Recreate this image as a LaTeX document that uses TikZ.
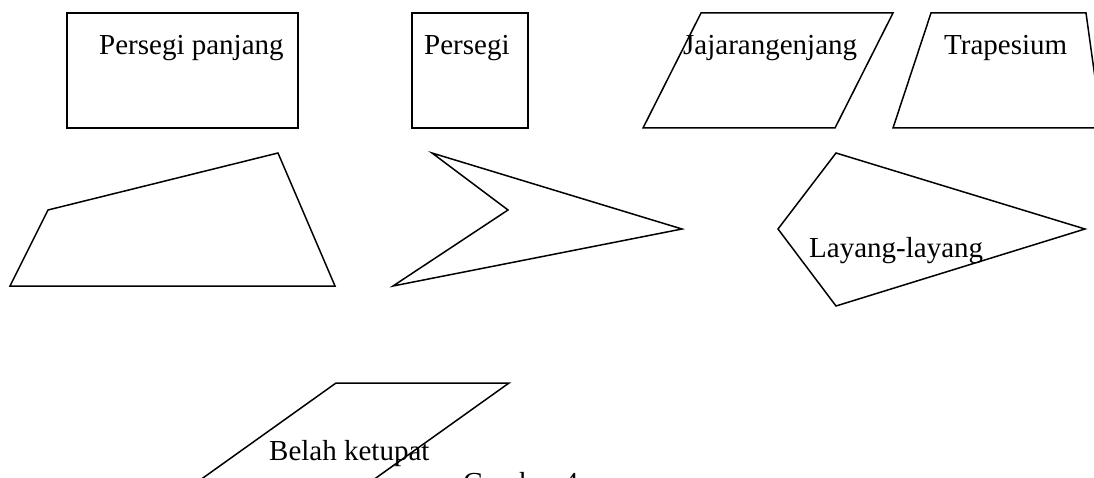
\documentclass[tikz,border=0pt]{standalone}
\usepackage{fontspec}
\setmainfont{Liberation Serif}
\begin{document}
\begin{tikzpicture}[x=1pt,y=-1pt,
  shape line/.style={draw=black,line width=1.5pt,line join=miter},
  label text/.style={anchor=base west,inner sep=0pt,font=\fontsize{29}{34}\selectfont}]
  \useasboundingbox (0,0) rectangle (1094,478);
  \clip (0,0) rectangle (1094,478);
  \fill[white] (0,0) rectangle (1094,478);

  % top row
  \draw[shape line] (67,13) rectangle (298,128);
  \node[label text] (pp) at (99,55) {Persegi panjang};

  \draw[shape line] (412,13) rectangle (528,128);
  \node[label text] (ps) at (424,55) {Persegi};

  \draw[shape line] (701,13) -- (893,13) -- (835,128) -- (643,128) -- cycle;
  \node[label text] (jj) at (683,55) {Jajarangenjang};

  \draw[shape line] (931,13) -- (1086,13) -- (1102,128) -- (893,128) -- cycle;
  \node[label text] (tr) at (944,55) {Trapesium};

  % middle row
  \draw[shape line] (48,210) -- (278,153) -- (335,286) -- (10,286) -- cycle;

  \draw[shape line] (432,153) -- (682,229) -- (393,286) -- (508,210) -- cycle;

  \draw[shape line] (836,153) -- (1085,229) -- (836,306) -- (778,229) -- cycle;
  \node[label text] (ll) at (809,258) {Layang-layang};

  % bottom row
  \draw[shape line] (336,383) -- (509,383) -- (240,575) -- (67,575) -- cycle;
  \node[label text] (bk) at (269,460) {Belah ketupat};

  \node[label text] (gb) at (463,492) {Gambar 4};
\end{tikzpicture}
\end{document}
